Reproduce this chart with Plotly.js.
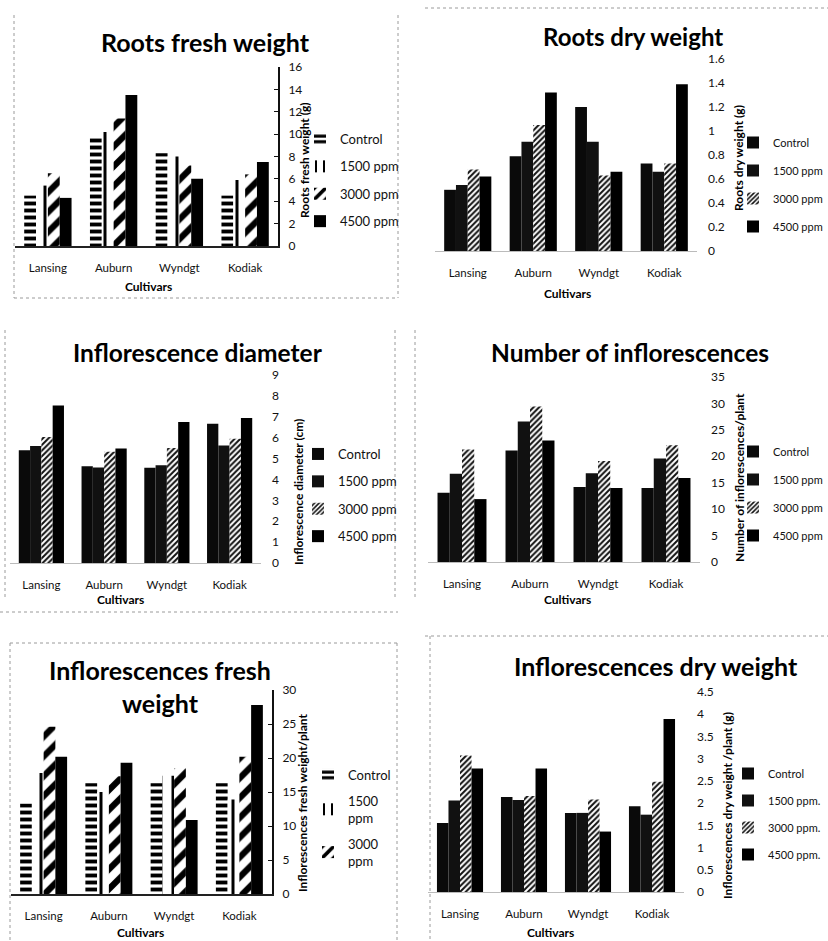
<!DOCTYPE html>
<html>
<head>
<meta charset="utf-8">
<script src="https://cdn.plot.ly/plotly-3.0.1.min.js"></script>
<style>html,body{margin:0;padding:0;background:#fff;}#chart{width:828px;height:941px;}</style>
</head>
<body>
<div id="chart"></div>
<script>
// ---------------- DATA ----------------
const categories = ['Lansing', 'Auburn', 'Wyndgt', 'Kodiak'];
const treatments = ['Control', '1500 ppm', '3000 ppm', '4500 ppm'];

const titles = ['Roots fresh weight', 'Roots dry weight', 'Inflorescence diameter',
  'Number of inflorescences', 'Inflorescences fresh<br>weight', 'Inflorescences dry weight'];
const yTitles = ['Roots fresh weight (g)', 'Roots dry weight (g)', 'Inflorescence diameter (cm)',
  'Number of inflorescences/plant', 'Inflorescences fresh weight/plant', 'Inflorescences dry weight /plant (g)'];
const xTitle = 'Cultivars';

// Roots fresh weight (g)
const rootsFreshControl = [4.5, 9.8, 8.3, 4.5];
const rootsFresh1500 = [5.4, 10.2, 8.0, 5.9];
const rootsFresh3000 = [6.5, 11.4, 7.2, 6.4];
const rootsFresh4500 = [4.3, 13.5, 6.0, 7.5];
// Roots dry weight (g)
const rootsDryControl = [0.51, 0.79, 1.20, 0.73];
const rootsDry1500 = [0.55, 0.91, 0.91, 0.66];
const rootsDry3000 = [0.68, 1.05, 0.63, 0.73];
const rootsDry4500 = [0.62, 1.32, 0.66, 1.39];
// Inflorescence diameter (cm)
const diamControl = [5.40, 4.63, 4.56, 6.67];
const diam1500 = [5.60, 4.57, 4.68, 5.63];
const diam3000 = [6.03, 5.32, 5.50, 5.95];
const diam4500 = [7.54, 5.48, 6.75, 6.94];
// Number of inflorescences / plant
const numControl = [13.1, 21.1, 14.2, 14.0];
const num1500 = [16.7, 26.6, 16.8, 19.6];
const num3000 = [21.3, 29.4, 19.1, 22.1];
const num4500 = [11.9, 23.0, 14.0, 15.9];
// Inflorescences fresh weight / plant
const freshControl = [13.3, 16.3, 16.3, 16.3];
const fresh1500 = [17.8, 15.0, 17.4, 13.9];
const fresh3000 = [24.6, 17.3, 18.5, 20.2];
const fresh4500 = [20.2, 19.3, 10.9, 27.8];
// Inflorescences dry weight / plant (g)
const dryControl = [1.55, 2.14, 1.78, 1.93];
const dry1500 = [2.06, 2.07, 1.78, 1.74];
const dry3000 = [3.07, 2.16, 2.08, 2.48];
const dry4500 = [2.78, 2.78, 1.36, 3.89];

const yRanges = [[0, 16], [0, 1.6], [0, 9], [0, 35], [0, 30], [0, 4.5]];
const yDticks = [2, 0.2, 1, 5, 5, 0.5];

const panelSeries = [
  [rootsFreshControl, rootsFresh1500, rootsFresh3000, rootsFresh4500],
  [rootsDryControl, rootsDry1500, rootsDry3000, rootsDry4500],
  [diamControl, diam1500, diam3000, diam4500],
  [numControl, num1500, num3000, num4500],
  [freshControl, fresh1500, fresh3000, fresh4500],
  [dryControl, dry1500, dry3000, dry4500]
];
const legendNames = [
  treatments, treatments, treatments, treatments,
  ['Control', '1500<br>ppm', '3000<br>ppm', '4500 ppm'],
  ['Control', '1500 ppm.', '3000 ppm.', '4500 ppm.']
];

// ---------------- LAYOUT (pixels) ----------------
const W = 828, H = 941;
const px = x => x / W;
const py = y => 1 - y / H;
const FONT = 'Lato, "Open Sans", sans-serif';

const geo = [
  {xd: [15, 278], yd: [246, 67], std: 6, tx: 205, ty: 42, ytx: 305, yty: 160, lx: 300, ly: 124, lf: 13, lg: 7.5, cx: 148, cy: 287, axisLine: true, ts: 25},
  {xd: [435, 697], yd: [251, 59], std: 10, tx: 633, ty: 36, ytx: 739, yty: 158, lx: 733, ly: 128, lf: 11, lg: 9, cx: 567, cy: 293, ts: 24},
  {xd: [10, 261], yd: [563, 375], std: 10, tx: 198, ty: 352, ytx: 298, yty: 492, lx: 298, ly: 439, lf: 13, lg: 7.5, cx: 120, cy: 599, ts: 24.5},
  {xd: [428, 700], yd: [562, 377], std: 10, tx: 630, ty: 352, ytx: 739, yty: 478, lx: 733, ly: 437, lf: 11, lg: 9, cx: 567, cy: 599, ts: 24.5},
  {xd: [11, 272], yd: [894, 690], std: 6, tx: 160, ty: 686, ytx: 302, yty: 803, lx: 308, ly: 760, lf: 13, lg: 6, cx: 140, cy: 932, axisLine: true, ts: 25},
  {xd: [428, 684], yd: [892, 692], std: 12, tx: 656, ty: 666, ytx: 727, yty: 806, lx: 728, ly: 759, lf: 11, lg: 8, cx: 550, cy: 932, ts: 25}
];

const stripedStyles = [
  {color: '#fff', pattern: {shape: '-', size: 7, solidity: 0.55, fgcolor: '#000', fgopacity: 1, bgcolor: '#fff', fillmode: 'overlay'}},
  {color: '#fff', pattern: {shape: '|', size: 12, solidity: 0.25, fgcolor: '#000', fgopacity: 1, bgcolor: '#fff', fillmode: 'overlay'}},
  {color: '#fff', pattern: {shape: '/', size: 14, solidity: 0.45, fgcolor: '#000', fgopacity: 1, bgcolor: '#fff', fillmode: 'overlay'}},
  {color: '#000'}
];
const solidStyles = [
  {color: '#0a0a0a'},
  {color: '#111'},
  {color: '#fff', pattern: {shape: '/', size: 4, solidity: 0.5, fgcolor: '#111', fgopacity: 1, bgcolor: '#fff', fillmode: 'overlay'}},
  {color: '#000'}
];
const panelStyles = [stripedStyles, solidStyles, solidStyles, solidStyles, stripedStyles, solidStyles];

const traces = [];
const layout = {
  width: W, height: H,
  margin: {l: 0, r: 0, t: 0, b: 0, autoexpand: false},
  paper_bgcolor: '#fff', plot_bgcolor: 'rgba(0,0,0,0)',
  barmode: 'group', bargap: 0.28, bargroupgap: 0,
  font: {family: FONT, color: '#111', size: 11},
  annotations: [], shapes: [],
  showlegend: true
};

for (let p = 0; p < 6; p++) {
  const g = geo[p];
  const sfx = p === 0 ? '' : String(p + 1);
  const xa = 'x' + sfx, ya = 'y' + sfx;
  const legKey = 'legend' + sfx;

  layout['xaxis' + sfx] = {
    domain: [px(g.xd[0]), px(g.xd[1])],
    anchor: ya,
    type: 'category',
    range: [-0.5, 3.5],
    showgrid: false, zeroline: false,
    showline: true,
    linecolor: g.axisLine ? '#222' : '#bbb',
    linewidth: g.axisLine ? 1.5 : 1,
    ticks: '',
    ticklabelstandoff: 11,
    tickfont: {family: FONT, size: 11.5, color: '#111'},
    automargin: false,
    fixedrange: true
  };
  layout['yaxis' + sfx] = {
    domain: [py(g.yd[0]), py(g.yd[1])],
    anchor: xa,
    side: 'right',
    range: yRanges[p],
    dtick: yDticks[p],
    tick0: 0,
    showgrid: false, zeroline: false,
    showline: !!g.axisLine,
    linecolor: '#111', linewidth: 2,
    ticks: g.axisLine ? 'inside' : '',
    ticklen: 4, tickcolor: '#111',
    ticklabelstandoff: g.std,
    tickfont: {family: FONT, size: 12, color: '#111'},
    automargin: false,
    fixedrange: true
  };
  layout[legKey] = {
    x: px(g.lx), y: py(g.ly), xanchor: 'left', yanchor: 'top',
    bgcolor: 'rgba(0,0,0,0)', borderwidth: 0,
    font: {family: FONT, size: g.lf, color: '#111'},
    traceorder: 'grouped', tracegroupgap: g.lg,
    itemwidth: 30
  };

  for (let s = 0; s < 4; s++) {
    const st = panelStyles[p][s];
    const marker = {color: st.color, line: {width: 0}};
    if (st.pattern) marker.pattern = st.pattern;
    traces.push({
      type: 'bar',
      x: categories,
      y: panelSeries[p][s],
      name: legendNames[p][s],
      xaxis: xa, yaxis: ya,
      legend: legKey,
      legendgroup: 'p' + p + 's' + s,
      showlegend: !(p === 4 && s === 3),
      marker: marker
    });
  }

  layout.annotations.push({
    xref: 'paper', yref: 'paper', x: px(g.tx), y: py(g.ty),
    xanchor: 'center', yanchor: 'middle', showarrow: false,
    text: titles[p],
    font: {family: FONT, size: g.ts, weight: 'bold', color: '#000'}
  });
  layout.annotations.push({
    xref: 'paper', yref: 'paper', x: px(g.ytx), y: py(g.yty),
    xanchor: 'center', yanchor: 'middle', showarrow: false,
    textangle: -90, text: yTitles[p],
    font: {family: FONT, size: 12, weight: 'bold', color: '#000'}
  });
  layout.annotations.push({
    xref: 'paper', yref: 'paper', x: px(g.cx), y: py(g.cy),
    xanchor: 'center', yanchor: 'middle', showarrow: false,
    text: xTitle,
    font: {family: FONT, size: 12, weight: 'bold', color: '#000'}
  });
}

const border = (x0, y0, x1, y1) => ({
  type: 'line', xref: 'paper', yref: 'paper',
  x0: px(x0), y0: py(y0), x1: px(x1), y1: py(y1),
  line: {color: '#9a9a9a', width: 1, dash: 'dot'}
});
layout.shapes.push(
  border(14, 15, 14, 298), border(14, 298, 398, 298), border(398, 15, 398, 298),
  border(425, 8, 828, 8),
  border(5, 330, 5, 600), border(395, 330, 395, 600),
  border(415, 330, 415, 600),
  border(0, 612, 398, 612),
  border(10, 643, 398, 643), border(10, 643, 10, 941), border(397, 643, 397, 941),
  border(425, 636, 828, 636), border(430, 636, 430, 941)
);

Plotly.newPlot('chart', traces, layout, {staticPlot: true, displayModeBar: false});
</script>
</body>
</html>
